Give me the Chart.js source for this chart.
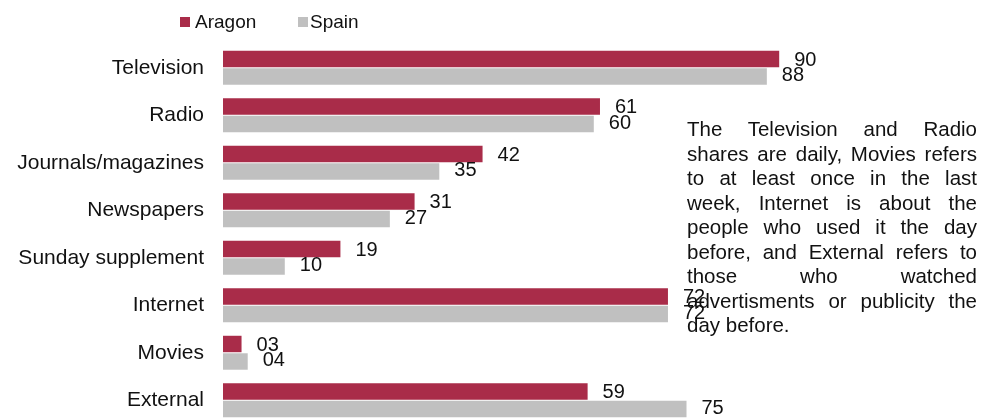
<!DOCTYPE html>
<html>
<head>
<meta charset="utf-8">
<script src="https://cdn.jsdelivr.net/npm/chart.js@4/dist/chart.umd.min.js"></script>
<style>
  html, body { margin: 0; padding: 0; background: #fff; overflow: hidden; }
  #wrap { position: relative; width: 981px; height: 440px; }
  #chartbox { position: absolute; left: 0; top: 0; width: 981px; height: 440px; }
  #note {
    position: absolute; left: 687px; top: 117px; width: 290px;
    font-family: "Liberation Sans", Arial, sans-serif; font-size: 20.5px;
    line-height: 24.5px; color: #111;
  }
  #note div { text-align: justify; text-align-last: justify; white-space: nowrap; }
  #note div.last { text-align-last: left; }
</style>
</head>
<body>
<div id="wrap">
  <div id="chartbox"><canvas id="c"></canvas></div>
  <div id="note">
    <div>The Television and Radio</div>
    <div>shares are daily, Movies refers</div>
    <div>to at least once in the last</div>
    <div>week, Internet is about the</div>
    <div>people who used it the day</div>
    <div>before, and External refers to</div>
    <div>those who watched</div>
    <div>advertisments or publicity the</div>
    <div class="last">day before.</div>
  </div>
</div>
<script>
const categories = ["Television", "Radio", "Journals/magazines", "Newspapers", "Sunday supplement", "Internet", "Movies", "External"];
const seriesNames = ["Aragon", "Spain"];
const aragon = [90, 61, 42, 31, 19, 72, 3, 59];
const spain = [88, 60, 35, 27, 10, 72, 4, 75];
const colors = ["#A92C49", "#C0C0C0"];
const FONT = '"Liberation Sans", Arial, sans-serif';

const labelPlugin = {
  id: 'valueLabels',
  afterDatasetsDraw(chart) {
    const ctx = chart.ctx;
    ctx.save();
    ctx.font = '20px ' + FONT;
    ctx.fillStyle = '#111';
    ctx.textAlign = 'left';
    ctx.textBaseline = 'middle';
    chart.data.datasets.forEach((ds, di) => {
      const meta = chart.getDatasetMeta(di);
      meta.data.forEach((el, i) => {
        const v = ds.data[i];
        const txt = String(v).padStart(2, '0');
        ctx.fillText(txt, el.x + 15, el.y + (di === 0 ? 1 : -1));
      });
    });
    ctx.restore();
  }
};

const legendPlugin = {
  id: 'customLegend',
  afterDraw(chart) {
    const ctx = chart.ctx;
    ctx.save();
    ctx.font = '19px ' + FONT;
    ctx.textBaseline = 'middle';
    ctx.textAlign = 'left';
    const items = [{box: 180, text: 195}, {box: 298, text: 310}];
    chart.data.datasets.forEach((ds, di) => {
      const it = items[di];
      ctx.fillStyle = ds.backgroundColor;
      ctx.fillRect(it.box, 17, 10, 10);
      ctx.fillStyle = '#111';
      ctx.fillText(ds.label, it.text, 22.5);
    });
    ctx.restore();
  }
};

new Chart(document.getElementById('c'), {
  type: 'bar',
  data: {
    labels: categories,
    datasets: [
      { label: seriesNames[0], data: aragon, backgroundColor: colors[0], borderWidth: 0,
        categoryPercentage: 0.737, barPercentage: 0.94 },
      { label: seriesNames[1], data: spain, backgroundColor: colors[1], borderWidth: 0,
        categoryPercentage: 0.737, barPercentage: 0.94 }
    ]
  },
  options: {
    indexAxis: 'y',
    responsive: true,
    maintainAspectRatio: false,
    animation: false,
    layout: { padding: { top: 44, bottom: 16, left: 0, right: 140 } },
    plugins: { legend: { display: false }, tooltip: { enabled: false } },
    scales: {
      x: { display: false, min: 0, max: 100 },
      y: {
        grid: { display: false, drawTicks: false },
        border: { display: false },
        ticks: { color: '#111', font: { family: FONT, size: 21 }, padding: 19 },
        afterFit(scale) { scale.width = 223; scale.paddingTop = 0; scale.paddingBottom = 0; }
      }
    }
  },
  plugins: [labelPlugin, legendPlugin]
});
</script>
</body>
</html>
